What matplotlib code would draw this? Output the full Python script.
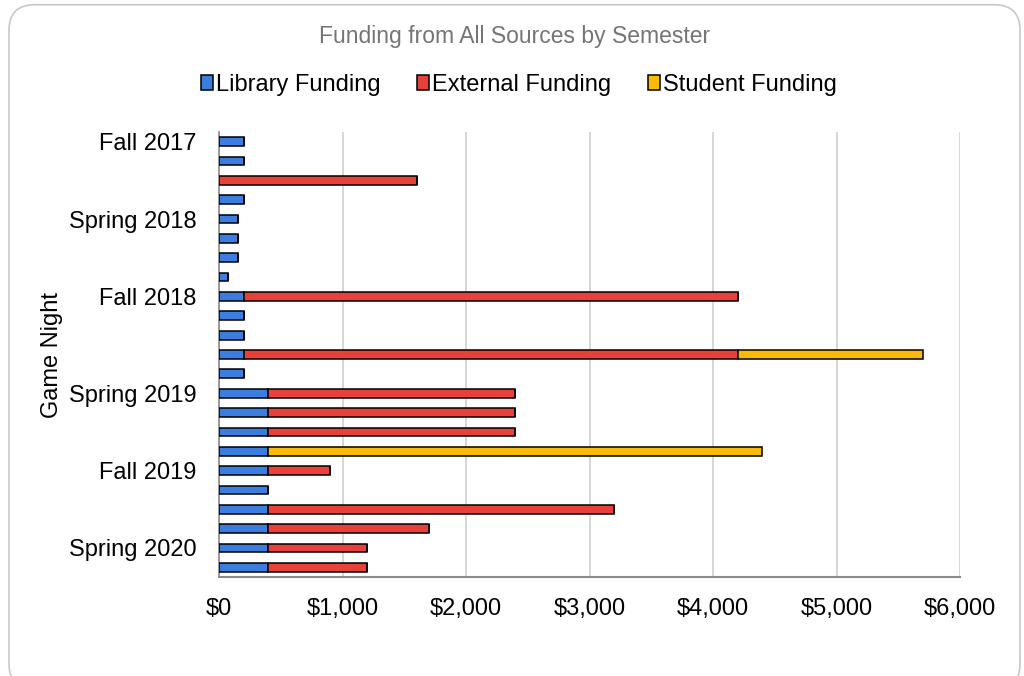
import matplotlib
matplotlib.use("Agg")
import matplotlib.pyplot as plt
from matplotlib.patches import FancyBboxPatch, Patch
from matplotlib.ticker import FuncFormatter
import numpy as np

plt.rcParams['font.family'] = ['Liberation Sans', 'DejaVu Sans']

# one row per game night, semester name on the first night of each semester
night_labels = ["Fall 2017", "", "", "", "Spring 2018", "", "", "",
                "Fall 2018", "", "", "", "", "Spring 2019", "", "", "",
                "Fall 2019", "", "", "", "Spring 2020", ""]
library = [200, 200, 0, 200, 150, 150, 150, 75,
           200, 200, 200, 200, 200, 400, 400, 400, 400,
           400, 400, 400, 400, 400, 400]
external = [0, 0, 1600, 0, 0, 0, 0, 0,
            4000, 0, 0, 4000, 0, 2000, 2000, 2000, 0,
            500, 0, 2800, 1300, 800, 800]
student = [0, 0, 0, 0, 0, 0, 0, 0,
           0, 0, 0, 1500, 0, 0, 0, 0, 4000,
           0, 0, 0, 0, 0, 0]

series_names = ["Library Funding", "External Funding", "Student Funding"]
colors = ["#3c7ee0", "#e8413a", "#f9bb08"]

fig = plt.figure(figsize=(10.24, 6.76), dpi=100)
ax = fig.add_axes([219 / 1024, 1 - 577 / 676, (960 - 219) / 1024, (577 - 132) / 676])

# rounded card border around the whole chart
card = FancyBboxPatch((9 / 1024, -0.02), 1011 / 1024, 1.013, transform=fig.transFigure,
                      boxstyle="round,pad=0,rounding_size=0.025", facecolor="none",
                      edgecolor="#c8c8c8", linewidth=1.2, mutation_aspect=1024 / 676)
fig.patches.append(card)

y = np.arange(len(night_labels))
lib = np.array(library)
ext = np.array(external)
stu = np.array(student)
h = 0.45
ax.barh(y, lib, height=h, color=colors[0], edgecolor="black", linewidth=1.1, zorder=3)
ax.barh(y, ext, left=lib, height=h, color=colors[1], edgecolor="black", linewidth=1.1, zorder=3)
ax.barh(y, stu, left=lib + ext, height=h, color=colors[2], edgecolor="black", linewidth=1.1, zorder=3)

ax.set_ylim(len(night_labels) - 0.5, -0.5)
ax.set_xlim(0, 6000)
ax.set_xticks(np.arange(0, 6001, 1000))
ax.xaxis.set_major_formatter(FuncFormatter(lambda v, p: "${:,.0f}".format(v)))
ax.set_yticks(y)
ax.set_yticklabels(night_labels)
ax.tick_params(axis="both", length=0, labelsize=17, colors="#000000")
ax.tick_params(axis="y", pad=16)
ax.tick_params(axis="x", pad=15)

ax.grid(axis="x", color="#d0d0d0", linewidth=1.2, zorder=0)
for s in ["top", "right"]:
    ax.spines[s].set_visible(False)
ax.spines["left"].set_color("#8a8a8a")
ax.spines["bottom"].set_color("#8a8a8a")
ax.spines["left"].set_linewidth(1.2)
ax.spines["bottom"].set_linewidth(1.5)

fig.text(52 / 1024, 1 - 355 / 676, "Game Night", rotation=90, fontsize=17,
         ha="center", va="center")
fig.text(515 / 1024, 1 - 36 / 676, "Funding from All Sources by Semester",
         fontsize=16.5, color="#757575", ha="center", va="center")

handles = [Patch(facecolor=c, edgecolor="black", linewidth=1.1) for c in colors]
fig.legend(handles, series_names, loc="center", bbox_to_anchor=(519 / 1024, 1 - 85 / 676),
           ncol=3, frameon=False, fontsize=17, handlelength=0.5, handleheight=0.6,
           handletextpad=0.13, columnspacing=1.55)

fig.savefig("out.png", dpi=100, facecolor="white")
